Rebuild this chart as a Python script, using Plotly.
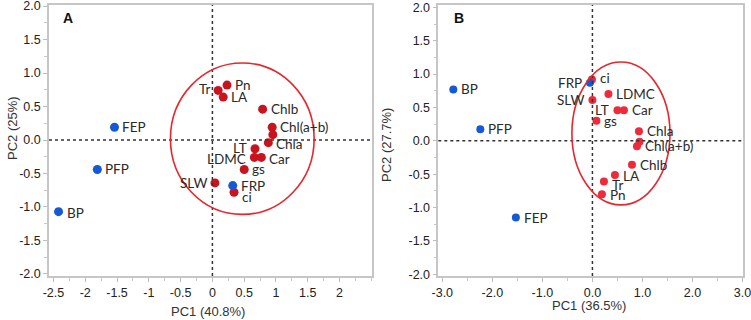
import plotly.graph_objects as go

W, H = 751, 320

# ---------------- data ----------------
# Panel A
a_var_names = ["Pn", "Tr", "LA", "Chlb", "Chl(a+b)", "", "Chla", "LT", "LDMC", "Car", "gs", "SLW", "ci"]
a_var_x = [0.23, 0.09, 0.17, 0.79, 0.94, 0.95, 0.88, 0.67, 0.66, 0.77, 0.50, 0.04, 0.34]
a_var_y = [0.82, 0.74, 0.64, 0.46, 0.19, 0.08, -0.04, -0.13, -0.26, -0.26, -0.44, -0.64, -0.78]
a_obs_names = ["FEP", "PFP", "BP", "FRP"]
a_obs_x = [-1.54, -1.81, -2.42, 0.32]
a_obs_y = [0.19, -0.44, -1.07, -0.68]

# Panel B
b_var_names = ["ci", "SLW", "LDMC", "LT", "Car", "gs", "Chla", "", "Chl(a+b)", "Chlb", "LA", "Tr", "Pn"]
b_var_x = [-0.01, 0.00, 0.32, 0.50, 0.63, 0.08, 0.93, 0.94, 0.89, 0.79, 0.45, 0.23, 0.19]
b_var_y = [0.92, 0.61, 0.70, 0.46, 0.46, 0.30, 0.145, -0.015, -0.08, -0.36, -0.51, -0.61, -0.80]
b_obs_names = ["BP", "PFP", "FRP", "FEP"]
b_obs_x = [-2.78, -2.24, -0.05, -1.53]
b_obs_y = [0.77, 0.175, 0.87, -1.15]

# tick labels
a_xticks = [-2.5, -2, -1.5, -1, -0.5, 0, 0.5, 1, 1.5, 2]
a_xticktext = ["-2.5", "-2", "-1.5", "-1", "-0.5", "0", "0.5", "1", "1.5", "2"]
b_xticks = [-3, -2, -1, 0, 1, 2, 3]
b_xticktext = ["-3.0", "-2.0", "-1.0", "0.0", "1.0", "2.0", "3.0"]
yticks = [-2, -1.5, -1, -0.5, 0, 0.5, 1, 1.5, 2]
yticktext = ["-2.0", "-1.5", "-1.0", "-0.5", "0.0", "0.5", "1.0", "1.5", "2.0"]

# grouping ellipses (center x, center y, radius x, radius y)
a_ellipse = (0.47, 0.02, 1.13, 1.13)
b_ellipse = (0.57, 0.11, 0.98, 1.07)

# ---------------- styles ----------------
# label side per point: 1 = right, -1 = left ; extra y shift (px)
a_var_side = [1, -1, 1, 1, 1, 1, 1, -1, -1, 1, 1, -1, 1]
a_var_dy = [0, 1, 0, 0, 0, 0, -1, 1, -2, -2, 0, 0, -5]
a_obs_side = [1, 1, 1, 1]
a_obs_dy = [0, 0, -1, 0]
b_var_side = [1, -1, 1, -1, 1, 1, 1, 1, 1, 1, 1, 1, 1]
b_var_dy = [1, 0, 0, 0, 0, 0, 0, 0, 0, 0, -1, -3, -1]
b_obs_side = [1, 1, -1, 1]
b_obs_dy = [0, 0, 0, 0]

RED_A = "#c8141f"
RED_B = "#ee2b3b"
BLUE = "#1559d6"
LABEL_FONT = dict(family="Lato, Open Sans, sans-serif", size=13.5, color="#2a2a2a")
TICK_FONT = dict(family="Liberation Sans, Arial, sans-serif", size=12.5, color="#222222")

fig = go.Figure()

fig.add_trace(go.Scatter(x=a_var_x, y=a_var_y, mode="markers", xaxis="x", yaxis="y",
                         marker=dict(color=RED_A, size=9), showlegend=False))
fig.add_trace(go.Scatter(x=a_obs_x, y=a_obs_y, mode="markers", xaxis="x", yaxis="y",
                         marker=dict(color=BLUE, size=9), showlegend=False))
fig.add_trace(go.Scatter(x=b_var_x, y=b_var_y, mode="markers", xaxis="x2", yaxis="y2",
                         marker=dict(color=RED_B, size=8), showlegend=False))
fig.add_trace(go.Scatter(x=b_obs_x, y=b_obs_y, mode="markers", xaxis="x2", yaxis="y2",
                         marker=dict(color=BLUE, size=8), showlegend=False))

annotations = []


def add_labels(names, xs, ys, sides, dys, xref, yref):
    for n, x, y, s, dy in zip(names, xs, ys, sides, dys):
        if not n:
            continue
        annotations.append(dict(
            x=x, y=y, xref=xref, yref=yref, text=n, showarrow=False,
            xanchor="left" if s > 0 else "right", yanchor="middle",
            xshift=7 * s, yshift=dy, borderpad=0, font=LABEL_FONT))


add_labels(a_var_names, a_var_x, a_var_y, a_var_side, a_var_dy, "x", "y")
add_labels(a_obs_names, a_obs_x, a_obs_y, a_obs_side, a_obs_dy, "x", "y")
add_labels(b_var_names, b_var_x, b_var_y, b_var_side, b_var_dy, "x2", "y2")
add_labels(b_obs_names, b_obs_x, b_obs_y, b_obs_side, b_obs_dy, "x2", "y2")


def paper_text(px, py, text, font, angle=0):
    annotations.append(dict(x=px / W, y=1 - py / H, xref="paper", yref="paper", text=text,
                            xanchor="center", yanchor="middle", textangle=angle,
                            showarrow=False, font=font))


LETTER_FONT = dict(family="Liberation Sans, Arial", size=14, color="#111")
paper_text(68, 18, "<b>A</b>", LETTER_FONT)
paper_text(458.5, 18, "<b>B</b>", LETTER_FONT)

TITLE_FONT = dict(family="Liberation Sans, Arial, sans-serif", size=13, color="#333333")
paper_text(208, 311, "PC1 (40.8%)", TITLE_FONT)
paper_text(589, 305, "PC1 (36.5%)", TITLE_FONT)
paper_text(12, 128, "PC2 (25%)", TITLE_FONT, -90)
paper_text(386, 145, "PC2 (27.7%)", TITLE_FONT, -90)

shapes = []
for xr, yr in (("x", "y"), ("x2", "y2")):
    shapes.append(dict(type="line", xref=xr, yref=yr + " domain", x0=0, x1=0, y0=0, y1=1,
                       line=dict(color="#333333", width=1.5, dash="dot")))
    shapes.append(dict(type="line", xref=xr + " domain", yref=yr, x0=0, x1=1, y0=0, y1=0,
                       line=dict(color="#333333", width=1.5, dash="dot")))

for (cx, cy, rx, ry), xr, yr in ((a_ellipse, "x", "y"), (b_ellipse, "x2", "y2")):
    shapes.append(dict(type="circle", xref=xr, yref=yr, x0=cx - rx, x1=cx + rx, y0=cy - ry, y1=cy + ry,
                       line=dict(color="#e8262c", width=1.6), fillcolor="rgba(0,0,0,0)", layer="above"))

axis_common = dict(showgrid=False, zeroline=False, showline=True, mirror=True, automargin=False,
                   linecolor="#c6c6c6", linewidth=1.5, ticks="outside", ticklen=4,
                   tickcolor="#bdbdbd", tickwidth=1, tickfont=TICK_FONT, ticklabeloverflow="allow",
                   minor=dict(ticks="outside", ticklen=3, tickcolor="#c6c6c6", dtick=0.25, tick0=0))

ydom = [1 - 276 / H, 1 - 5 / H]

fig.update_layout(
    width=W, height=H, autosize=False,
    margin=dict(l=0, r=0, t=0, b=0, pad=0, autoexpand=False),
    paper_bgcolor="white", plot_bgcolor="white",
    xaxis=dict(domain=[49 / W, 372 / W], range=[-2.57, 2.51], tickvals=a_xticks,
               ticktext=a_xticktext, anchor="y", **axis_common),
    yaxis=dict(domain=ydom, range=[-2.03, 2.015], tickvals=yticks, ticktext=yticktext,
               anchor="x", **axis_common),
    xaxis2=dict(domain=[438.3 / W, 742.7 / W], range=[-3.08, 3.003], tickvals=b_xticks,
                ticktext=b_xticktext, anchor="y2",
                **{**axis_common, "minor": dict(ticks="outside", ticklen=3, tickcolor="#c6c6c6",
                                                dtick=0.5, tick0=0)}),
    yaxis2=dict(domain=ydom, range=[-2.025, 2.035], tickvals=yticks, ticktext=yticktext,
                anchor="x2", **axis_common),
    annotations=annotations,
    shapes=shapes,
)

fig.write_html("out.html", config={"displayModeBar": False},
               post_script="document.body.style.margin='0';")
